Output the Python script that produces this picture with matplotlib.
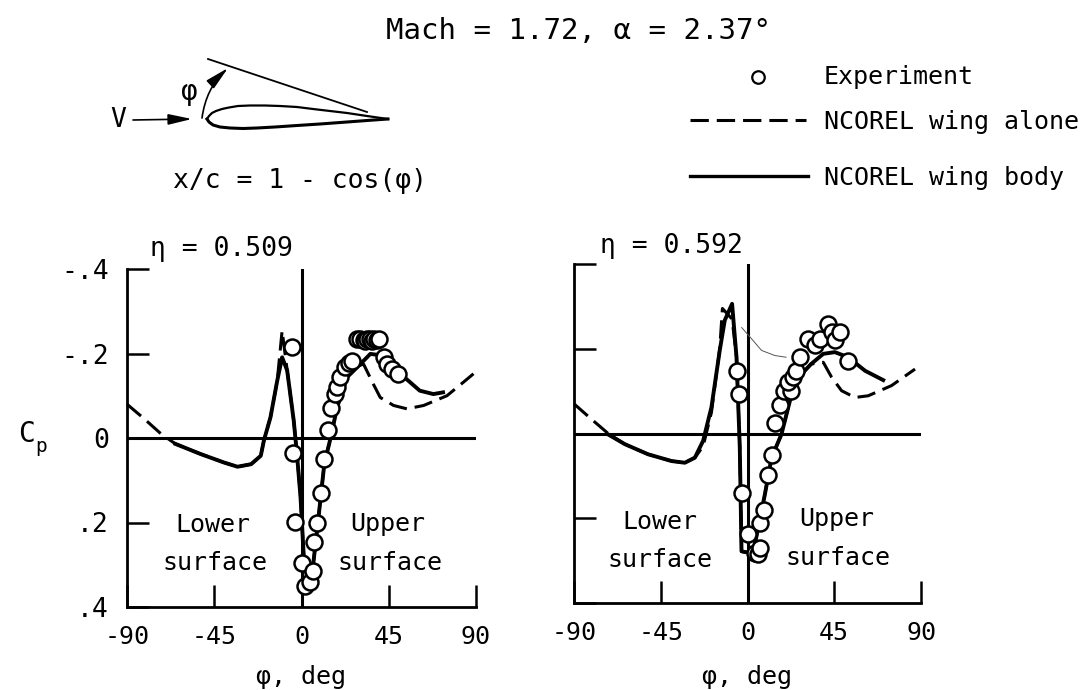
import matplotlib
matplotlib.use("Agg")
import matplotlib.pyplot as plt
from matplotlib.patches import FancyArrowPatch

plt.rcParams['font.family'] = ['DejaVu Sans Mono', 'DejaVu Sans']

W, H = 1084, 690
phi_ticks = [-90, -45, 0, 45, 90]
phi_labels = ['-90', '-45', '0', '45', '90']
cp_ticks = [-0.4, -0.2, 0, 0.2, 0.4]
cp_labels = ['-.4', '-.2', '0', '.2', '.4']

# eta = 0.509
exp_phi_a = [-4.8, -4.3, -3.4, 0, 1.7, 4.3, 5.8, 6.7, 8, 9.8, 11.8, 13.5, 15.4, 17.2, 18.4, 20, 22.6, 24.4, 26,
             28.5, 30, 32, 33, 33.8, 35.5, 36.5, 37.2, 39, 40, 42.4, 44, 46.7, 49.7]
exp_cp_a = [-.215, .036, .198, .297, .35, .342, .314, .247, .201, .13, .05, -.02, -.07, -.104, -.12, -.144, -.167,
            -.177, -.182, -.235, -.235, -.232, -.23, -.235, -.235, -.23, -.235, -.232, -.235, -.191, -.175, -.164,
            -.152]
body_phi_a = [-65, -52, -40, -33, -26, -21, -19.4, -16, -12.5, -10, -7.4, -4, -2.2, -.5, 1.2, 2.9, 5, 8, 11.8, 15,
              18.4, 23.5, 29.5, 35.5, 42.4, 51, 61, 68, 73]
body_cp_a = [.014, .038, .058, .068, .062, .042, .006, -.049, -.136, -.191, -.16, -.041, .046, .14, .283, .33, .34,
             .22, .06, 0, -.073, -.144, -.171, -.199, -.195, -.152, -.112, -.104, -.108]
wing_phi_a = [-90, -81, -72.5, -65, -52, -40, -33, -26, -21, -19.4, -16, -12.5, -10, -7.4, -4, -2.2, -.5, 1.2, 2.9,
              5, 8, 11.8, 15, 18.4, 23.5, 29.5, 32, 37, 40.6, 47.5, 54.4, 63, 75, 83.5, 88.7]
wing_cp_a = [-.08, -.045, -.01, .014, .038, .058, .068, .062, .042, .006, -.049, -.136, -.254, -.16, -.041, .046,
             .14, .283, .33, .34, .22, .06, 0, -.073, -.144, -.171, -.175, -.128, -.096, -.077, -.069, -.077, -.1,
             -.132, -.152]

# eta = 0.592
exp_phi_b = [-5.5, -4.5, -2.8, .3, 3.8, 5.5, 6.4, 6.7, 8.7, 10.7, 12.5, 14.2, 17.1, 19, 22.8, 20.8, 23.7, 25.4,
             27.2, 31.5, 35, 37.5, 41.5, 43.6, 45.3, 47.9, 52.2]
exp_cp_b = [-.148, -.093, .141, .236, .282, .284, .27, .212, .181, .099, .051, -.024, -.067, -.101, -.1, -.121,
            -.133, -.148, -.18, -.224, -.208, -.224, -.259, -.239, -.22, -.239, -.172]
body_phi_b = [-72, -63.7, -51.6, -39.4, -32.5, -27.3, -23, -18.7, -14.4, -11.8, -8, -5.7, -4, -3.1, -1, 3, 9, 12.5,
              17.6, 22, 28, 33, 39.3, 45.3, 52.2, 61, 70.4]
body_cp_b = [.003, .025, .049, .065, .069, .057, .017, -.062, -.196, -.267, -.306, -.18, .033, .278, .28, .28, .144,
             .057, .002, -.077, -.14, -.164, -.188, -.192, -.18, -.148, -.126]
wing_phi_b = [-90, -81, -72.3, -63.7, -51.6, -39.4, -32.5, -27.3, -23, -18.7, -14.4, -13, -8, -5.7, -4, -3.1, -1,
              3, 9, 12.5, 17.6, 22, 28, 33, 39.3, 43.6, 48.8, 55.7, 62.6, 74.7, 86.9]
wing_cp_b = [-.07, -.034, 0, .025, .049, .065, .069, .057, .03, -.05, -.2, -.295, -.27, -.18, .033, .278, .28,
             .28, .144, .057, .002, -.077, -.14, -.164, -.168, -.133, -.101, -.085, -.089, -.113, -.152]
stray_phi_b = [-3, 2, 7.3, 14.2, 20]
stray_cp_b = [-.25, -.224, -.196, -.184, -.18]

# airfoil sketch (figure pixels)
foil_upper_x = [207, 209, 212, 216, 222, 229, 238, 250, 265, 280, 297, 313, 330, 347, 367, 388]
foil_upper_y = [119, 116, 113, 111, 109, 107.5, 106, 105.5, 105.5, 106, 107, 109, 111, 113, 116, 119]
foil_lower_x = [207, 209, 213, 220, 230, 243, 257, 275, 297, 320, 347, 367, 388]
foil_lower_y = [119, 122, 125, 127, 128, 128.5, 128, 127, 125.5, 124, 122, 120.5, 119]
tangent_x = [208, 367]
tangent_y = [59, 112]

fig = plt.figure(figsize=(W / 100, H / 100), dpi=100, facecolor='white')


def make_axes(box):
    l, t, r, b = box
    return fig.add_axes([l / W, 1 - b / H, (r - l) / W, (b - t) / H])


def panel(ax, phi, cp, bp, bc, wp, wc, ylabels, labelpad):
    ax.set_xlim(-90, 90)
    ax.set_ylim(0.4, -0.4)
    ax.patch.set_alpha(0)
    for s in ('top', 'right'):
        ax.spines[s].set_visible(False)
    for s in ('left', 'bottom'):
        ax.spines[s].set_linewidth(2.0)
    ax.set_xticks(phi_ticks, phi_labels)
    ax.set_yticks(cp_ticks, cp_labels if ylabels else [''] * 5)
    ax.tick_params(axis='x', direction='in', length=16, width=1.8, labelsize=18, pad=13)
    ax.tick_params(axis='y', direction='in', length=16, width=1.8, labelsize=19, pad=13)
    ax.axhline(0, color='black', lw=2.2, zorder=2)
    ax.axvline(0, color='black', lw=2.2, zorder=2)
    ax.plot(wp, wc, color='black', lw=2.2, dashes=(6, 2.6), zorder=3, clip_on=False)
    ax.plot(bp, bc, color='black', lw=2.8, zorder=3)
    ax.plot(phi, cp, ls='none', marker='o', ms=11.5, mfc='white', mec='black', mew=1.8, zorder=4)
    ax.set_xlabel('φ, deg', fontsize=18, labelpad=labelpad)


ax1 = make_axes((127, 269, 476, 607))
panel(ax1, exp_phi_a, exp_cp_a, body_phi_a, body_cp_a, wing_phi_a, wing_cp_a, True, 11.5)
ax2 = make_axes((574, 264, 921, 603))
panel(ax2, exp_phi_b, exp_cp_b, body_phi_b, body_cp_b, wing_phi_b, wing_cp_b, False, 14.5)
ax2.plot(stray_phi_b, stray_cp_b, color='#555555', lw=0.7, zorder=3)

ov = fig.add_axes([0, 0, 1, 1], zorder=5)
ov.set_xlim(0, W)
ov.set_ylim(H, 0)
ov.axis('off')


def t(x, y, s, size=18, ha='left'):
    ov.text(x, y, s, fontsize=size, ha=ha, va='center', color='black')


t(579, 31, 'Mach = 1.72, α = 2.37°', 21, 'center')
t(118, 120, 'V', 19, 'center')
t(189, 92, 'φ', 20, 'center')
t(300, 181, 'x/c = 1 - cos(φ)', 19, 'center')
t(221, 249, 'η = 0.509', 19, 'center')
t(671, 246, 'η = 0.592', 19, 'center')
t(824, 77, 'Experiment')
t(824, 122, 'NCOREL wing alone')
t(824, 178, 'NCOREL wing body')
t(27, 434, 'C', 20, 'center')
t(41, 447, 'p', 14, 'center')
t(213, 525, 'Lower', 18, 'center')
t(215, 563, 'surface', 18, 'center')
t(388, 524, 'Upper', 18, 'center')
t(390, 563, 'surface', 18, 'center')
t(660, 522, 'Lower', 18, 'center')
t(660, 560, 'surface', 18, 'center')
t(837, 519, 'Upper', 18, 'center')
t(838, 558, 'surface', 18, 'center')

# legend marks
ov.plot([758], [77], ls='none', marker='o', ms=9, mfc='white', mec='black', mew=1.6)
ov.plot([690, 806], [120, 120], color='black', lw=2.2, dashes=(6, 2.6))
ov.plot([690, 808], [176, 176], color='black', lw=2.4)

# airfoil sketch
ov.plot(foil_upper_x, foil_upper_y, color='black', lw=1.6)
ov.plot(foil_lower_x, foil_lower_y, color='black', lw=2.2)
ov.plot(tangent_x, tangent_y, color='black', lw=1.3)
ov.add_patch(FancyArrowPatch((133, 120), (192, 119), arrowstyle='-|>,head_length=0.8,head_width=0.18',
                             mutation_scale=18, color='black', lw=1.2, shrinkA=0, shrinkB=0))
ov.add_patch(FancyArrowPatch((202, 118), (228, 68), connectionstyle='arc3,rad=-0.18',
                             arrowstyle='-|>,head_length=0.8,head_width=0.18',
                             mutation_scale=18, color='black', lw=1.2, shrinkA=0, shrinkB=0))

fig.savefig('out.png', dpi=100, facecolor='white')
